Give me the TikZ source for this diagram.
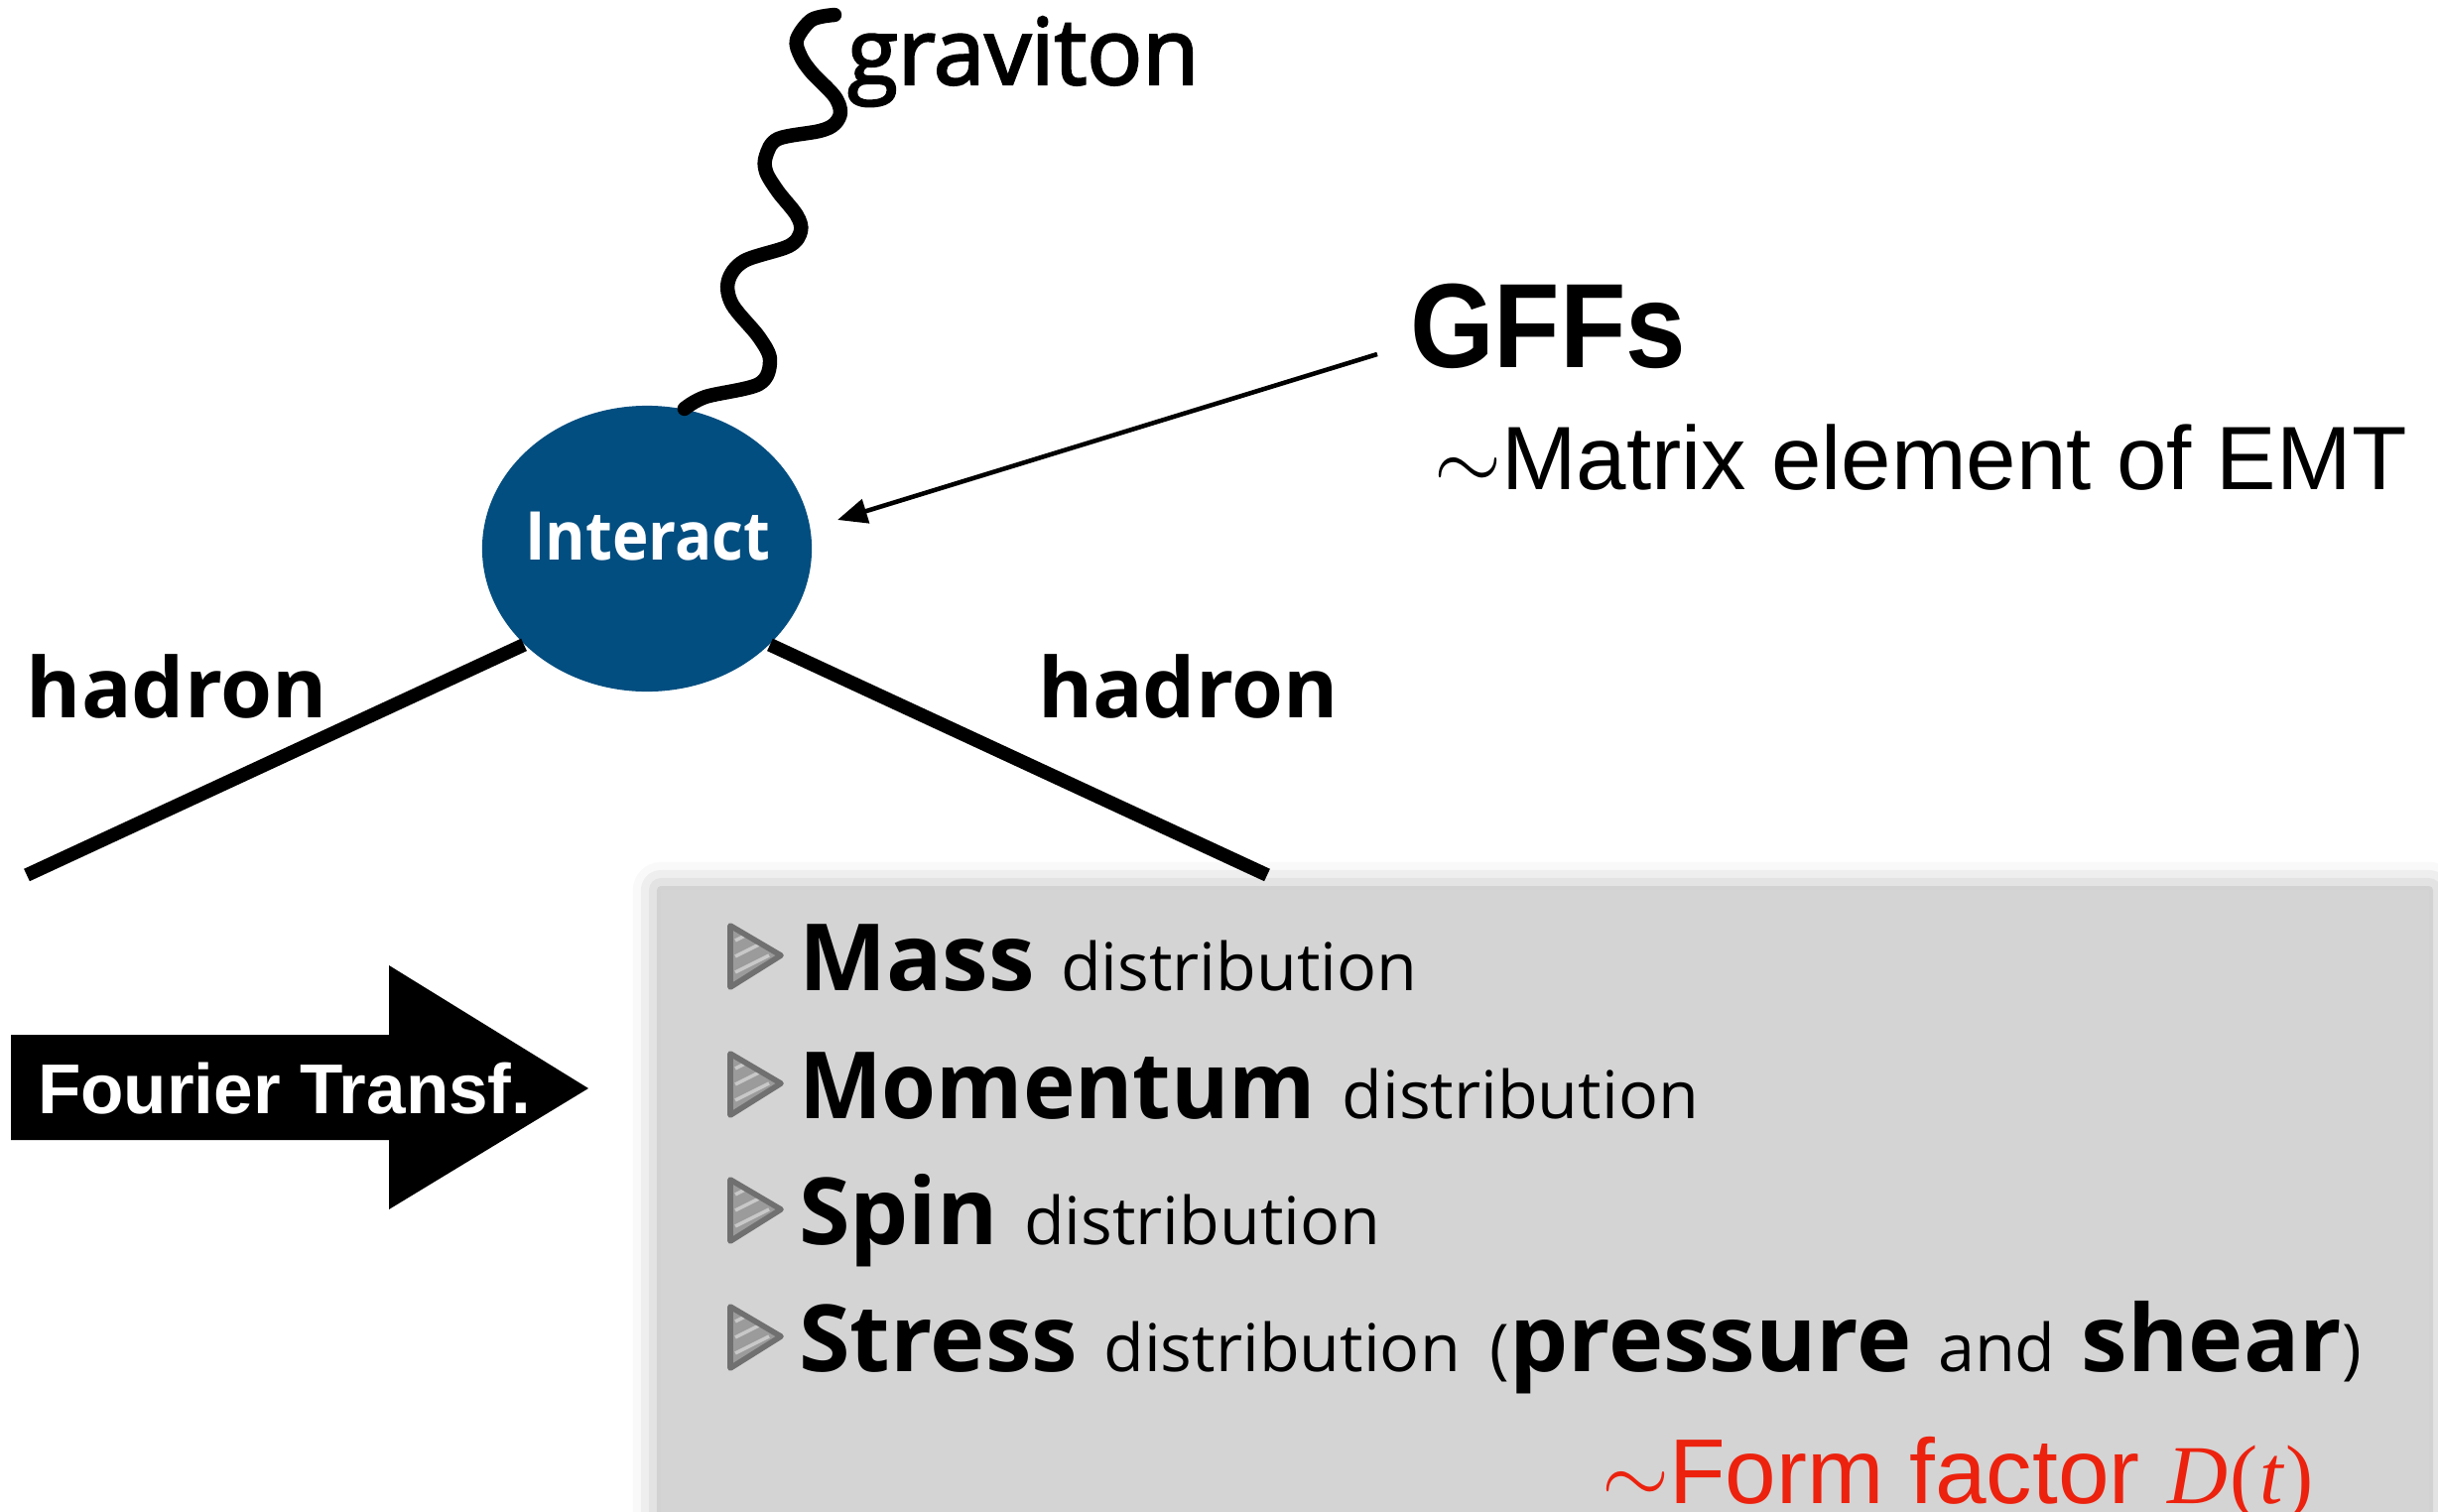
\documentclass[tikz,border=0pt]{standalone}
\usepackage{fontspec}
\usepackage{graphicx}
\usetikzlibrary{arrows.meta,shapes.geometric,shadows.blur}
\newfontfamily\osans{Open Sans}
\newfontfamily\osgrav[FakeBold=2.5]{Open Sans}
\newfontfamily\lsans{Liberation Sans}
\newfontfamily\lserif{Liberation Serif}
\definecolor{intblue}{RGB}{3,78,128}
\definecolor{boxgray}{RGB}{212,212,212}
\definecolor{ffred}{RGB}{236,34,14}
\definecolor{trigray}{RGB}{112,112,112}
\definecolor{tristripe}{RGB}{200,200,200}
\newcommand\bigb[1]{{\osans\bfseries\fontsize{26.6pt}{30pt}\selectfont #1}}
\newcommand\smr[1]{{\osans\fontsize{18.9pt}{22pt}\selectfont #1}}
\newcommand\gap{\hspace{7.5pt}}
\begin{document}
\begin{tikzpicture}[x=0.01cm,y=-0.01cm,
  lbl/.style={inner sep=0pt, outer sep=0pt, anchor=base west},
  fline/.style={line width=3.9pt},
  wline/.style={line width=4.1pt, line cap=round, line join=round},
  gffarrow/.style={line width=1.3pt, -{Triangle[length=8.5pt,width=7pt]}}
]
\useasboundingbox (0,0) rectangle (2457,1524);
\clip (0,0) rectangle (2457,1524);

% vertex
\node[ellipse, fill=intblue, minimum width=3.32cm, minimum height=2.88cm, inner sep=0pt] (int) at (652,553) {};
\node[anchor=base, text=white, inner sep=0pt] (intl) at (653,564) {\scalebox{0.91}[1]{\osans\bfseries\fontsize{19.3pt}{22pt}\selectfont Interact}};

% hadron lines
\coordinate (hl) at (27,882);
\coordinate (hr) at (1277,882);
\draw[fline] (int.218) -- (hl);
\draw[fline] (int.322) -- (hr);
\node[lbl] (hadl) at (27,723) {\osans\bfseries\fontsize{23.9pt}{28pt}\selectfont hadron};
\node[lbl] (hadr) at (1046,723) {\osans\bfseries\fontsize{23.9pt}{28pt}\selectfont hadron};

% graviton
\draw[wline] plot[smooth, tension=0.55] coordinates {(int.75) (711,400) (765,387) (776,363) (765,340) (738,307) (734,283) (750,263) (795,248) (807,233) (803,217) (784,193) (772,173) (772,157) (784,140) (826,132) (841,125) (847,113) (841,97) (818,73) (807,57) (803,40) (818,20) (841,15)};
\node[lbl] (grav) at (854,85) {\osgrav\fontsize{26.4pt}{30pt}\selectfont graviton};

% GFFs
\node[lbl] (gffs) at (1421,370) {\scalebox{0.9}[1]{\lsans\bfseries\fontsize{34.4pt}{40pt}\selectfont GFFs}};
\node[lbl] (emt) at (1445,493) {\lsans\fontsize{25.8pt}{30pt}\selectfont$\sim$Matrix element of EMT};
\coordinate (gS) at (1388,357);
\coordinate (gT) at (844,524);
\draw[gffarrow] (gS) -- (gT);

% Fourier arrow
\fill[black] (11,1043) -- (392,1043) -- (392,973) -- (593,1097) -- (392,1219) -- (392,1149) -- (11,1149) -- cycle;
\node[lbl, text=white] (ft) at (38,1122) {\lsans\bfseries\fontsize{20.2pt}{24pt}\selectfont Fourier Transf.};

% gray box
\path[fill=boxgray, blur shadow={shadow xshift=0pt, shadow yshift=0pt, shadow blur radius=8pt, shadow opacity=35}] (666,897) rectangle (2448,1600);

% bullets
\foreach \b in {998,1127,1254,1382}{
  \begin{scope}
    \path[clip] (736,\b-65) -- (787,\b-35) -- (736,\b-3) -- cycle;
    \fill[trigray!70!white] (736,\b-65) -- (787,\b-35) -- (736,\b-3) -- cycle;
    \foreach \c in {50,34,18}{
      \draw[tristripe, line width=1pt] (741,\b-\c) -- (775,\b-\c-17);
    }
  \end{scope}
  \draw[trigray, line width=1.6pt, line join=round] (736,\b-65) -- (787,\b-35) -- (736,\b-3) -- cycle;
}
\node[lbl] (b1) at (805,998) {\bigb{Mass}\gap\smr{distribution}};
\node[lbl] (b2) at (805,1127) {\scalebox{0.95}[1]{\bigb{Momentum}}\gap\smr{distribution}};
\node[lbl] (b3) at (805,1254) {\bigb{Spin}\gap\smr{distribution}};
\node[lbl] (b4) at (805,1382) {\bigb{Stress}\gap\smr{distribution}\hspace{8.5pt}\smr{(}\bigb{pressure}\gap\smr{and}\gap\bigb{shear}\smr{)}};

% form factor
\node[lbl, text=ffred] (ff) at (1614,1515) {\lsans\fontsize{26.4pt}{30pt}\selectfont$\sim$Form factor\hspace{8pt}{\lserif\fontsize{24pt}{28pt}\selectfont\itshape D\kern0.5pt\upshape(\kern0.5pt\itshape t\/\kern0.3pt\upshape)}};
\end{tikzpicture}
\end{document}
